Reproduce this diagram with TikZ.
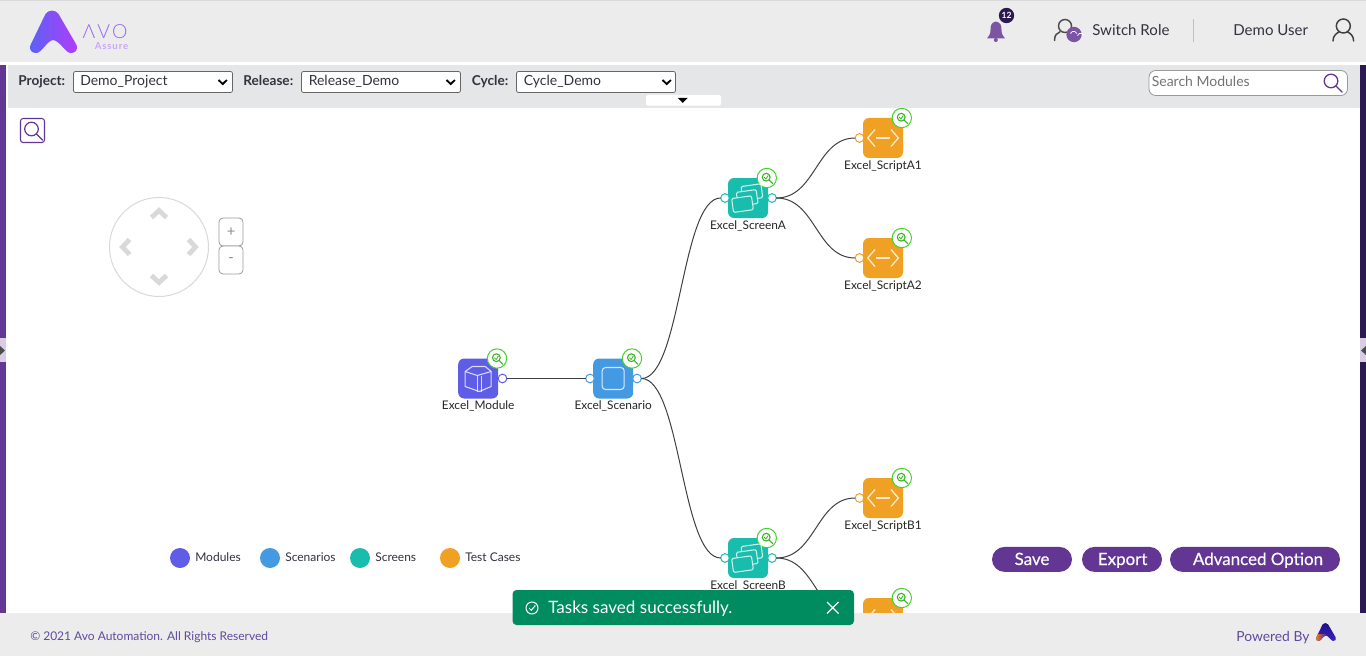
\documentclass[tikz,border=0pt]{standalone}
\usepackage{fontspec}
\setmainfont{Lato}
\newfontfamily\logof[LetterSpace=11]{Lato Light}
\newfontfamily\logob[LetterSpace=9]{Lato}
\newfontfamily\btnf[FakeBold=0.35]{Lato}
\usetikzlibrary{calc,shapes.geometric}
\definecolor{hdr}{HTML}{ECECEC}
\definecolor{barc}{HTML}{E5E6E8}
\definecolor{purp}{HTML}{643694}
\definecolor{dpurp}{HTML}{2B1A52}
\definecolor{txt}{HTML}{333340}
\definecolor{modc}{HTML}{5F5CE6}
\definecolor{scec}{HTML}{4499E3}
\definecolor{scrc}{HTML}{19BDAE}
\definecolor{tstc}{HTML}{F0A023}
\definecolor{okc}{HTML}{43D12A}
\definecolor{toastc}{HTML}{008C5E}
\definecolor{navc}{HTML}{D9D9D9}
\definecolor{logoL}{HTML}{5A62F7}
\definecolor{logoR}{HTML}{B23CF8}
\definecolor{logoT}{HTML}{9A66F2}
\definecolor{logoS}{HTML}{C9A6F7}
\definecolor{foot}{HTML}{5F4A9E}
\tikzset{
  x=0.75pt,y=-0.75pt,
  tbox/.style={draw=none,fill=#1,rounded corners=4.5pt,minimum size=30pt,inner sep=0pt,outer sep=0pt},
  port/.style={circle,draw=#1,fill=white,line width=0.75pt,minimum size=6.5pt,inner sep=0pt,outer sep=0pt},
  link/.style={draw=black!75,line width=0.75pt},
  lbl/.style={text=black!85,inner sep=0pt,font=\fontsize{8.9}{10}\selectfont},
  badge/.style={circle,draw=okc,fill=white,line width=0.75pt,minimum size=14.5pt,inner sep=0pt,outer sep=0pt},
  ic/.style={draw=white,draw opacity=0.78,line width=0.8pt,line join=round},
  sel/.style={draw=black!60,fill=white,rounded corners=1.5pt,line width=0.6pt},
  seltxt/.style={anchor=west,inner sep=0pt,text height=8.5pt,text depth=2.5pt,text=txt,font=\fontsize{10.5}{12}\selectfont},
  fl/.style={anchor=east,inner sep=0pt,text height=8.5pt,text depth=2.5pt,text=txt,font=\bfseries\fontsize{10.2}{12}\selectfont},
  btn/.style={fill=purp,rounded corners=9.4pt,inner sep=0pt,text height=10.5pt,text depth=2.1pt,text=white,font=\btnf\fontsize{12.7}{15}\selectfont},
  leg/.style={anchor=west,inner sep=0pt,text=txt,font=\fontsize{9}{10}\selectfont},
  chev/.style={black,line width=1.4pt},
  zoombtn/.style={draw=black!40,fill=white,rounded corners=3pt,line width=0.6pt,minimum width=18pt,minimum height=21pt,inner sep=0pt,text=black!45,font=\fontsize{11}{12}\selectfont},
}
\newcommand{\lens}[4]{%
  \draw[#3,line width=#4] (#1) circle[radius=#2];
  \draw[#3,line width=#4,line cap=round] ($(#1)+(0.7*#2,0.7*#2)$) -- ($(#1)+(1.65*#2,1.65*#2)$);
}
\newcommand{\tnode}[5]{%
  \node[tbox=#4] (#1) at (#2,#3) {};
  \node[lbl,anchor=center] (#1-l) at (#2,#3+27.8) {#5};
  \node[badge] (#1-b) at (#2+18.8,#3-20) {};
  \lens{$(#1-b)+(-0.6,-0.8)$}{3.9}{okc!85!black}{0.8pt}
  \draw[okc!85!black,line width=0.6pt] ($(#1-b)+(-2.6,-0.8)$) -- ($(#1-b)+(-0.9,1)$) -- ($(#1-b)+(1.4,-2.6)$);
}
\newcommand{\icmodule}[1]{%
  \draw[ic] ($(#1)+(-13,-7)$) -- ($(#1)+(-6,-12)$) -- ($(#1)+(7,-12)$) -- ($(#1)+(13,-7)$) -- ($(#1)+(13,8)$) -- ($(#1)+(1,13)$) -- ($(#1)+(-13,8)$) -- cycle;
  \draw[ic] ($(#1)+(-13,-7)$) -- ($(#1)+(-1,-3)$) -- ($(#1)+(13,-7)$);
  \draw[ic] ($(#1)+(-1,-3)$) -- ($(#1)+(-1,13)$);
  \draw[ic] ($(#1)+(3,-3)$) -- ($(#1)+(3,13)$);
}
\newcommand{\icscreen}[1]{%
  \foreach \dx/\dy in {4.7/-5.3,-0.8/-0.2,-6.3/5.3}{
    \draw[ic,fill=scrc,rounded corners=1pt,rotate around={8:($(#1)+(\dx,\dy)$)}] ($(#1)+(\dx-10,\dy-7)$) rectangle ($(#1)+(\dx+10,\dy+7)$);
  }
}
\newcommand{\icscript}[1]{%
  \draw[ic,line width=1pt] ($(#1)+(-8,-8.5)$) -- ($(#1)+(-15.3,0)$) -- ($(#1)+(-8,8.5)$);
  \draw[ic,line width=1pt] ($(#1)+(8,-8.5)$) -- ($(#1)+(15.3,0)$) -- ($(#1)+(8,8.5)$);
  \draw[ic,line width=1pt] ($(#1)+(-7,0)$) -- ($(#1)+(7,0)$);
}
\newcommand{\avopath}{(45.5,14) .. controls (48.5,9.5) and (55.5,9.5) .. (58.5,14) -- (76,44) .. controls (79,50) and (75,53.5) .. (70,53) .. controls (65,52) and (60,41) .. (53,40) .. controls (47,41) and (42,52) .. (37,53) .. controls (32,53.5) and (28,50) .. (31,44) -- cycle}
\begin{document}
\begin{tikzpicture}
\useasboundingbox (0,0) rectangle (1366,656);
\fill[white] (0,0) rectangle (1366,656);

% --- tree ---
\tnode{mod}{478.2}{378.5}{modc}{Excel\_Module}
\tnode{sce}{613.2}{378.5}{scec}{Excel\_Scenario}
\tnode{sa}{748}{198}{scrc}{Excel\_ScreenA}
\tnode{sb}{748}{558}{scrc}{Excel\_ScreenB}
\tnode{a1}{883}{138}{tstc}{Excel\_ScriptA1}
\tnode{a2}{883}{258}{tstc}{Excel\_ScriptA2}
\tnode{b1}{883}{498}{tstc}{Excel\_ScriptB1}
\tnode{b2}{883}{618}{tstc}{Excel\_ScriptB2}

\icmodule{mod}
\draw[ic,rounded corners=2.5pt] ($(sce)+(-11,-11)$) rectangle ($(sce)+(11,11)$);
\icscreen{sa}
\icscreen{sb}
\icscript{a1}
\icscript{a2}
\icscript{b1}
\icscript{b2}

% ports
\node[port=modc] (mod-r) at (502.5,378.5) {};
\node[port=scec] (sce-i) at (590,378.5) {};
\node[port=scec] (sce-r) at (637,378.5) {};
\node[port=scrc] (sa-i) at (725,198) {};
\node[port=scrc] (sa-r) at (772,198) {};
\node[port=scrc] (sb-i) at (725,558) {};
\node[port=scrc] (sb-r) at (772,558) {};
\node[port=tstc] (a1-i) at (859.5,138) {};
\node[port=tstc] (a2-i) at (859.5,258) {};
\node[port=tstc] (b1-i) at (859.5,498) {};
\node[port=tstc] (b2-i) at (859.5,618) {};

% connectors
\draw[link] (mod-r.east) -- (sce-i.west);
\draw[link] (sce-r.east) .. controls (681,378.5) and (681,198) .. (sa-i.west);
\draw[link] (sce-r.east) .. controls (681,378.5) and (681,558) .. (sb-i.west);
\draw[link] (sa-r.east) .. controls (816,198) and (816,138) .. (a1-i.west);
\draw[link] (sa-r.east) .. controls (816,198) and (816,258) .. (a2-i.west);
\draw[link] (sb-r.east) .. controls (816,558) and (816,498) .. (b1-i.west);
\draw[link] (sb-r.east) .. controls (816,558) and (816,618) .. (b2-i.west);

% --- side bands ---
\fill[purp] (0,62) rectangle (6,613);
\fill[dpurp] (1360,62) rectangle (1366,613);
\fill[white!75!purp] (0,338) rectangle (6,362);
\fill[white!75!purp] (1360,338) rectangle (1366,362);
\fill[black!70] (0,346) -- (5,350.5) -- (0,355) -- cycle;
\fill[black!70] (1366,346) -- (1361,350.5) -- (1366,355) -- cycle;

% --- header ---
\fill[hdr] (0,0) rectangle (1366,62);
\fill[black!15] (0,0) rectangle (1366,1.5);
\fill[white] (0,62) rectangle (1366,65);

% logo
\begin{scope}
\clip \avopath;
\shade[left color=logoL,right color=logoR] (29,9) rectangle (78,54);
\end{scope}
\node[inner sep=0pt,text=logoT,font=\logof\fontsize{14.6}{17}\selectfont] (logoa) at (105,31.5) {ΛVO};
\node[inner sep=0pt,text=logoS,font=\logob\bfseries\fontsize{7.2}{8}\selectfont] (logos) at (111.5,46) {Assure};

% bell
\fill[purp!85!white] (995.8,21.5) .. controls (991,22.5) and (990.5,26) .. (990.5,30) .. controls (990.5,34) and (989,36) .. (987,38.5) -- (1005,38.5) .. controls (1003,36) and (1001.5,34) .. (1001.5,30) .. controls (1001.5,26) and (1001,22.5) .. (995.8,21.5) -- cycle;
\fill[purp!85!white] (995.8,40) circle[radius=2];
\node[circle,fill=dpurp,minimum size=11.5pt,inner sep=0pt,text=white,font=\bfseries\fontsize{6.4}{7}\selectfont] (bellnum) at (1006.5,15.5) {12};

% switch role
\draw[black!70,line width=1.1pt] (1065,26) circle[radius=6.5];
\draw[black!70,line width=1.1pt,line cap=round] (1054.5,40.5) .. controls (1054.5,35) and (1057,33) .. (1060,31.8);
\node[circle,fill=purp!85!white,minimum size=11.5pt,inner sep=0pt] (swc) at (1074,34.5) {};
\draw[white,line width=0.6pt] (1070.5,33.5) arc[start angle=200,end angle=340,radius=3.4];
\draw[white,line width=0.6pt] (1077.5,35.5) arc[start angle=20,end angle=160,radius=-3.4];
\node[anchor=west,inner sep=0pt,text=txt,font=\fontsize{11.3}{13}\selectfont] (sw) at (1092,30.3) {Switch Role};
\draw[black!25,line width=0.75pt] (1193.5,19) -- (1193.5,42);
\node[anchor=west,inner sep=0pt,text=txt,font=\fontsize{11.3}{13}\selectfont] (du) at (1233,30.3) {Demo User};
\draw[black!75,line width=1.1pt] (1343.3,26) circle[radius=7];
\draw[black!75,line width=1.1pt,line cap=round] (1333,41) .. controls (1333,36) and (1336,33.5) .. (1339,32);
\draw[black!75,line width=1.1pt,line cap=round] (1353.6,41) .. controls (1353.6,36) and (1350.6,33.5) .. (1347.6,32);

% --- filter bar ---
\fill[barc] (8,65) rectangle (1360,108);
\node[fl] (fp) at (65.5,82) {Project:};
\draw[sel] (73.5,71.5) rectangle (232.5,92.5);
\node[seltxt] (vp) at (80,82) {Demo\_Project};
\draw[chev] (218.5,80) -- (222.7,84) -- (226.9,80);
\node[fl] (fr) at (293.5,82) {Release:};
\draw[sel] (301.5,71.5) rectangle (460.5,92.5);
\node[seltxt] (vr) at (308.5,82) {Release\_Demo};
\draw[chev] (446.5,80) -- (450.7,84) -- (454.9,80);
\node[fl] (fc) at (508.5,82) {Cycle:};
\draw[sel] (516.5,71.5) rectangle (675.5,92.5);
\node[seltxt] (vc) at (523.5,82) {Cycle\_Demo};
\draw[chev] (662.5,80) -- (666.7,84) -- (670.9,80);
\fill[white,rounded corners=1.5pt] (646,95) rectangle (721,105.7);
\fill[black] (678,98) -- (687.5,98) -- (682.75,103) -- cycle;
\draw[black!40,fill=white,rounded corners=5pt,line width=0.6pt] (1149,70.5) rectangle (1347.5,95.5);
\node[anchor=west,inner sep=0pt,text=black!55,font=\fontsize{10.5}{12}\selectfont] (sm) at (1151.5,81.6) {Search Modules};
\lens{1331,81}{6.8}{purp}{1pt}

% search button
\draw[purp,fill=white,rounded corners=2pt,line width=0.8pt] (20.5,118.5) rectangle (44.5,142.5);
\lens{31.5,129}{6.8}{purp}{0.9pt}

% --- navigator ---
\draw[black!15,line width=0.75pt] (159,247) circle[radius=49.5];
\foreach \a/\px/\py in {0/159/214,180/159/279,90/126/247,-90/192/247}{
  \draw[navc,line width=3.6pt,rotate around={\a:(\px,\py)}] (\px-7.5,\py+3.5) -- (\px,\py-3.5) -- (\px+7.5,\py+3.5);
}
\node[zoombtn] (zin) at (231,232) {+};
\node[zoombtn] (zout) at (231,260) {-};

% --- legend ---
\node[circle,fill=modc,minimum size=15pt,inner sep=0pt] (l1) at (180,558) {};
\node[leg] (lt1) at (195,557.6) {Modules};
\node[circle,fill=scec,minimum size=15pt,inner sep=0pt] (l2) at (270,558) {};
\node[leg] (lt2) at (285,557.6) {Scenarios};
\node[circle,fill=scrc,minimum size=15pt,inner sep=0pt] (l3) at (360,558) {};
\node[leg] (lt3) at (375,557.6) {Screens};
\node[circle,fill=tstc,minimum size=15pt,inner sep=0pt] (l4) at (450,558) {};
\node[leg] (lt4) at (465,557.6) {Test Cases};

% --- buttons ---
\node[btn,minimum width=60pt,minimum height=18.75pt] (save) at (1032,559.4) {Save};
\node[btn,minimum width=60pt,minimum height=18.75pt] (exp) at (1122,559.4) {\hspace*{1pt}Export};
\node[btn,minimum width=127.5pt,minimum height=18.75pt] (adv) at (1255,559.4) {\hspace*{4.5pt}Advanced Option};

% --- footer ---
\fill[hdr] (0,613) rectangle (1366,656);
\node[anchor=west,inner sep=0pt,text=foot,font=\fontsize{9}{11}\selectfont] (cpy) at (30,636.8) {© 2021 Avo Automation. All Rights Reserved};
\node[anchor=west,inner sep=0pt,text=foot,font=\fontsize{10.4}{12}\selectfont] (pow) at (1236,637.2) {Powered By};
\begin{scope}[shift={(1303.25,618.45)},scale=0.425]
\clip \avopath;
\shade[top color=dpurp!70!blue,bottom color=purp!60!blue] (29,9) rectangle (78,54);
\shade[left color=orange,right color=purp!60!blue] (29,38) rectangle (54,54);
\end{scope}

% --- toast ---
\fill[toastc,rounded corners=3pt] (512.5,590) rectangle (854,625);
\draw[white,line width=0.75pt] (532,608) circle[radius=6];
\draw[white,line width=0.75pt] (529,608) -- (531.3,610.3) -- (535.3,605.5);
\node[anchor=west,inner sep=0pt,text=white,font=\fontsize{12.8}{14}\selectfont] (toast) at (548,608.3) {Tasks saved successfully.};
\draw[white,line width=1pt] (827,602) -- (838.5,613.5) (838.5,602) -- (827,613.5);
\end{tikzpicture}
\end{document}
